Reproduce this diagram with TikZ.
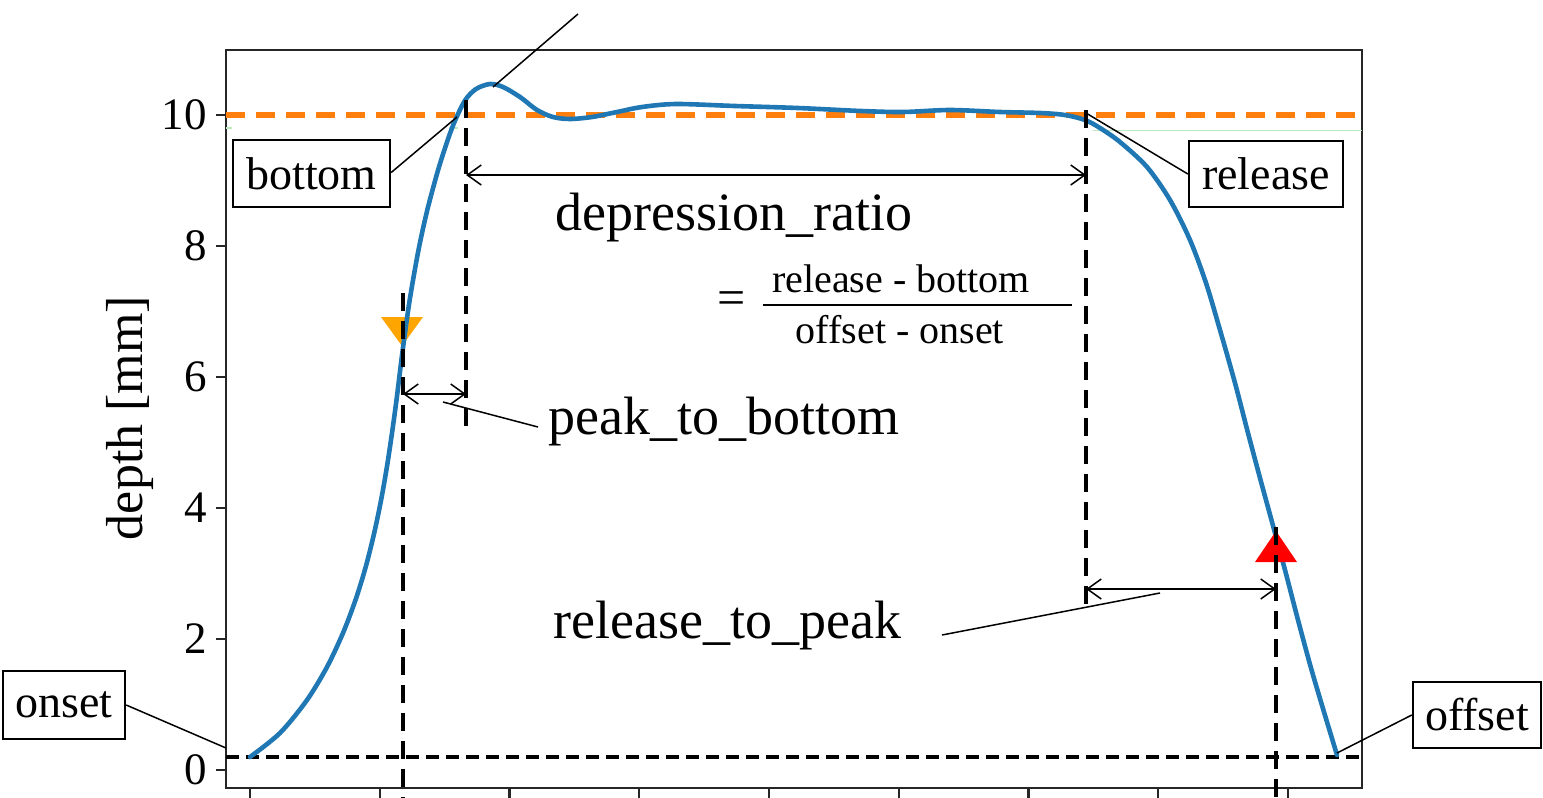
\documentclass[tikz,border=0pt]{standalone}
\usepackage{fontspec}
\setmainfont{Liberation Serif}
\usetikzlibrary{arrows.meta}
\definecolor{mplblue}{HTML}{1F77B4}
\definecolor{mplorange}{HTML}{FF7F0E}
\definecolor{markorange}{HTML}{FFA500}
\definecolor{faintgreen}{HTML}{BDEBC0}

\begin{document}
\begin{tikzpicture}[x=0.5pt,y=-0.5pt,
  frame/.style={line width=1.1pt, draw=black!85},
  tickmark/.style={line width=1.1pt, draw=black!85},
  ticklabel/.style={font=\fontsize{22.5}{27}\selectfont, anchor=east, inner sep=0pt},
  guide/.style={line width=1.9pt, dash pattern=on 9pt off 5pt},
  zeroline/.style={line width=1.6pt, dash pattern=on 6.5pt off 3.5pt},
  target/.style={line width=2.8pt, draw=mplorange, dash pattern=on 9.5pt off 5.5pt},
  signal/.style={line width=2.3pt, draw=mplblue, line join=round, line cap=round},
  dim/.style={line width=0.75pt, {Straight Barb[length=7pt,width=10pt]}-{Straight Barb[length=7pt,width=10pt]}},
  leader/.style={line width=0.75pt},
  tag/.style={draw, line width=1.2pt, inner sep=0pt, font=\fontsize{23}{28}\selectfont},
  bigtext/.style={font=\fontsize{27}{32}\selectfont, inner sep=0pt, anchor=base west},
  fractext/.style={font=\fontsize{20}{24}\selectfont, inner sep=0pt, anchor=base},
]

\useasboundingbox (0,0) rectangle (1543,798);

% axes frame and ticks
\draw[frame] (226,50) rectangle (1362,788);
\foreach \v in {0,2,4,6,8,10}{
  \draw[tickmark] (216,{770-65.5*\v}) -- (226,{770-65.5*\v});
  \node[ticklabel] (ytick\v) at (207,{770-65.5*\v}) {\v};
}
\foreach \x in {250,380,509.5,639,769,899,1028.5,1158,1288}{
  \draw[tickmark] (\x,788) -- (\x,798);
}
\node[rotate=90, font=\fontsize{26}{30}\selectfont, inner sep=0pt] (ylabel) at (130,418) {depth [mm]};

% reference levels
\draw[faintgreen, line width=0.5pt] (1093,130) -- (1362,130);
\draw[faintgreen, line width=1pt] (226,128) -- (232,128);
\draw[faintgreen, line width=1pt] (449,128) -- (458,128);
\draw[target] (226,115) -- (1362,115);
\draw[zeroline] (226,757) -- (1362,757);

% peak marker (pressing)
\fill[markorange] (381,317) -- (423,317) -- (402,346) -- cycle;

% depth signal
\draw[signal] plot[smooth, tension=0.5] coordinates {
  (250,757) (280,733) (307,700) (327,667) (343,633) (355.5,600)
  (365.7,567) (374.2,533) (381.1,500) (386.9,467) (392,433) (396.5,400)
  (402.7,350) (409.7,300) (418.5,250) (427.3,210) (438.1,170)
  (447.7,140) (455.3,120) (465.3,100) (476,89) (490,84)
  (503,87) (520,97) (537,110) (553,117) (570,119) (592,117) (617,112)
  (642,107) (676,104) (735,106) (798,108) (861,111) (903,112) (950,110)
  (1000,112) (1040,113) (1065,115) (1085,120) (1100,128) (1120,142)
  (1147,167) (1170,200) (1190,240) (1206,283) (1220,330) (1235,383)
  (1248,433) (1260,478) (1272,522) (1285,570) (1298,620) (1311,668)
  (1324,712) (1337,755)};

% peak marker (release)
\fill[red] (1255,562) -- (1297,562) -- (1276,531) -- cycle;

% event points
\coordinate (onsetpt) at (226,748);
\coordinate (bottompt) at (457,117);
\coordinate (peaktop) at (493,87);
\coordinate (peakfree) at (578,14);
\coordinate (releasept) at (1086,113);
\coordinate (offsetpt) at (1337,753);

% vertical guides
\coordinate (pkT) at (403,293);   \coordinate (pkB) at (403,798);
\coordinate (btT) at (466,100);   \coordinate (btB) at (466,428);
\coordinate (rlT) at (1086,110);  \coordinate (rlB) at (1086,610);
\coordinate (rpT) at (1276,527);  \coordinate (rpB) at (1276,798);
\draw[guide] (pkT) -- (pkB);
\draw[guide] (btT) -- (btB);
\draw[guide] (rlT) -- (rlB);
\draw[guide] (rpT) -- (rpB);

% dimension arrows
\coordinate (drL) at (466,175);  \coordinate (drR) at (1086,175);
\coordinate (pbL) at (403,394);  \coordinate (pbR) at (466,394);
\coordinate (rpL) at (1086,589); \coordinate (rpR) at (1276,589);
\draw[dim] (drL) -- (drR);
\draw[dim] (pbL) -- (pbR);
\draw[dim] (rpL) -- (rpR);

% labels
\node[tag, minimum width=78.5pt, minimum height=33.5pt] (bottom) at (311.5,173.5) {bottom};
\node[tag, minimum width=77pt, minimum height=33pt] (release) at (1266,174) {release};
\node[tag, minimum width=61pt, minimum height=34pt] (onset) at (64,705) {onset};
\node[tag, minimum width=64pt, minimum height=33pt] (offset) at (1477,715) {offset};

\draw[leader] (bottom.east) ++(0,-1) -- (bottompt);
\draw[leader] (peaktop) -- (peakfree);
\draw[leader] (release.west) -- (releasept);
\draw[leader] (onset.east) -- (onsetpt);
\draw[leader] (offset.west) -- (offsetpt);

\node[bigtext] (depr) at (555,230) {depression\_ratio};
\node[font=\fontsize{25}{30}\selectfont, inner sep=0pt] (eq) at (732,303) {=};
\node[fractext] (num) at (901,292) {release - bottom};
\node[fractext] (den) at (900,343) {offset - onset};
\coordinate (barL) at (763,305); \coordinate (barR) at (1072,305);
\draw[line width=0.75pt] (barL) -- (barR);

\node[bigtext] (ptb) at (548,434) {peak\_to\_bottom};
\coordinate (ptbA) at (443,402); \coordinate (ptbB) at (538,427);
\draw[leader] (ptbA) -- (ptbB);

\node[bigtext] (rtp) at (553,638) {release\_to\_peak};
\coordinate (rtpA) at (942,635); \coordinate (rtpB) at (1160,593);
\draw[leader] (rtpA) -- (rtpB);

\end{tikzpicture}
\end{document}
